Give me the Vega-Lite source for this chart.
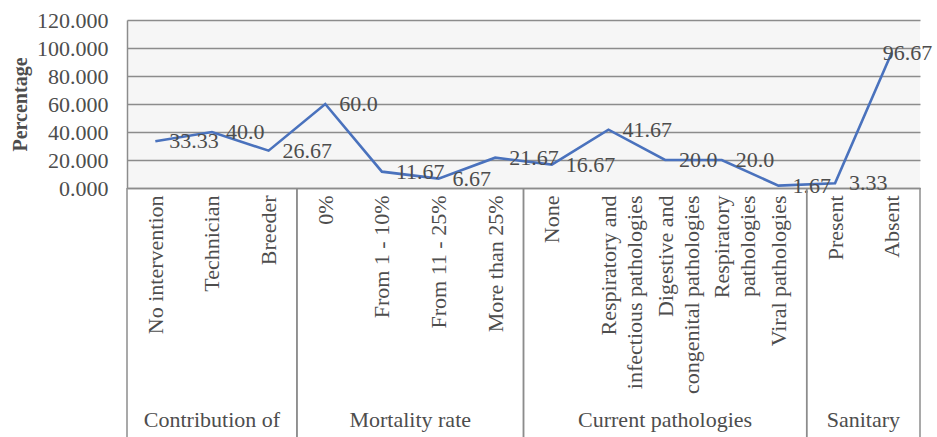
{
  "$schema": "https://vega.github.io/schema/vega-lite/v6.json",
  "padding": {"top": 9, "left": 10, "right": 0, "bottom": 0},
  "autosize": {"type": "pad"},
  "spacing": 0,
  "bounds": "flush",
  "config": {
    "font": "Liberation Serif",
    "view": {"stroke": null},
    "text": {"font": "Liberation Serif"},
    "axis": {"labelFont": "Liberation Serif", "titleFont": "Liberation Serif"}
  },
  "datasets": {
    "points": [
      {"group": "Contribution of", "category": "No intervention", "value": 33.33, "label": "33.33"},
      {"group": "Contribution of", "category": "Technician", "value": 40.0, "label": "40.0"},
      {"group": "Contribution of", "category": "Breeder", "value": 26.67, "label": "26.67"},
      {"group": "Mortality rate", "category": "0%", "value": 60.0, "label": "60.0"},
      {"group": "Mortality rate", "category": "From 1 - 10%", "value": 11.67, "label": "11.67"},
      {"group": "Mortality rate", "category": "From 11 - 25%", "value": 6.67, "label": "6.67"},
      {"group": "Mortality rate", "category": "More than 25%", "value": 21.67, "label": "21.67"},
      {"group": "Current pathologies", "category": "None", "value": 16.67, "label": "16.67"},
      {"group": "Current pathologies", "category": "Respiratory and\ninfectious pathologies", "value": 41.67, "label": "41.67"},
      {"group": "Current pathologies", "category": "Digestive and\ncongenital pathologies", "value": 20.0, "label": "20.0"},
      {"group": "Current pathologies", "category": "Respiratory\npathologies", "value": 20.0, "label": "20.0"},
      {"group": "Current pathologies", "category": "Viral pathologies", "value": 1.67, "label": "1.67"},
      {"group": "Sanitary", "category": "Present", "value": 3.33, "label": "3.33"},
      {"group": "Sanitary", "category": "Absent", "value": 96.67, "label": "96.67"}
    ]
  },
  "vconcat": [
    {
      "width": 793,
      "height": 168,
      "view": {"fill": "#f6f6f6", "stroke": null},
      "data": {"name": "points"},
      "encoding": {
        "x": {
          "field": "category", "type": "nominal", "sort": null,
          "scale": {"type": "point", "padding": 0.5},
          "axis": {
            "title": null, "labelAngle": -90, "ticks": false, "labelPadding": 7,
            "labelFontSize": 22, "labelColor": "#4d4d4d", "labelLineHeight": 26,
            "labelExpr": "split(datum.label, '\\n')", "labelLimit": 400,
            "domainColor": "#8c8c8c", "domainWidth": 1.5
          }
        },
        "y": {
          "field": "value", "type": "quantitative",
          "scale": {"domain": [0, 120], "nice": false},
          "axis": {
            "title": "Percentage", "titleFontWeight": "bold", "titleFontSize": 20,
            "titleColor": "#4d4d4d", "titlePadding": 6,
            "values": [0, 20, 40, 60, 80, 100, 120], "format": ".3f",
            "labelFontSize": 22, "labelColor": "#4d4d4d", "labelPadding": 19,
            "ticks": false, "domainColor": "#8c8c8c", "domainWidth": 1.5,
            "gridColor": "#8c8c8c", "gridWidth": 1.5, "gridOpacity": 1
          }
        }
      },
      "layer": [
        {"mark": {"type": "line", "color": "#4a72bd", "strokeWidth": 2.6}},
        {
          "transform": [{"filter": "datum.value < 90"}],
          "mark": {"type": "text", "align": "left", "baseline": "middle", "dx": 14, "fontSize": 22, "color": "#4d4d4d"},
          "encoding": {"text": {"field": "label"}}
        },
        {
          "transform": [{"filter": "datum.value >= 90"}],
          "mark": {"type": "text", "align": "left", "baseline": "middle", "dx": -9, "dy": 0, "fontSize": 22, "color": "#4d4d4d"},
          "encoding": {"text": {"field": "label"}}
        }
      ]
    },
    {
      "width": 793,
      "height": 215,
      "data": {"name": "points"},
      "transform": [
        {"window": [{"op": "count", "as": "end"}], "frame": [null, 0]},
        {"window": [{"op": "count", "as": "start"}], "frame": [null, -1]},
        {"fold": ["start", "end"], "as": ["side", "edge"]}
      ],
      "layer": [
        {
          "mark": {"type": "rule", "color": "#8c8c8c", "strokeWidth": 1.5},
          "encoding": {
            "x": {"aggregate": "min", "field": "edge", "type": "quantitative", "scale": {"nice": false, "zero": true}, "axis": null},
            "detail": {"field": "group"}
          }
        },
        {
          "mark": {"type": "rule", "color": "#8c8c8c", "strokeWidth": 1.5},
          "encoding": {
            "x": {"aggregate": "max", "field": "edge", "type": "quantitative", "axis": null},
            "detail": {"field": "group"}
          }
        }
      ]
    },
    {
      "width": 793,
      "height": 34,
      "data": {"name": "points"},
      "transform": [
        {"window": [{"op": "count", "as": "end"}], "frame": [null, 0]},
        {"window": [{"op": "count", "as": "start"}], "frame": [null, -1]},
        {"fold": ["start", "end"], "as": ["side", "edge"]}
      ],
      "layer": [
        {
          "mark": {"type": "rule", "color": "#8c8c8c", "strokeWidth": 1.5},
          "encoding": {
            "x": {"aggregate": "min", "field": "edge", "type": "quantitative", "scale": {"nice": false, "zero": true}, "axis": null},
            "detail": {"field": "group"}
          }
        },
        {
          "mark": {"type": "rule", "color": "#8c8c8c", "strokeWidth": 1.5},
          "encoding": {
            "x": {"aggregate": "max", "field": "edge", "type": "quantitative", "axis": null},
            "detail": {"field": "group"}
          }
        },
        {
          "mark": {"type": "text", "baseline": "middle", "align": "center", "fontSize": 22, "color": "#4d4d4d"},
          "encoding": {
            "x": {"aggregate": "mean", "field": "edge", "type": "quantitative", "axis": null},
            "text": {"field": "group"}
          }
        }
      ]
    }
  ]
}
